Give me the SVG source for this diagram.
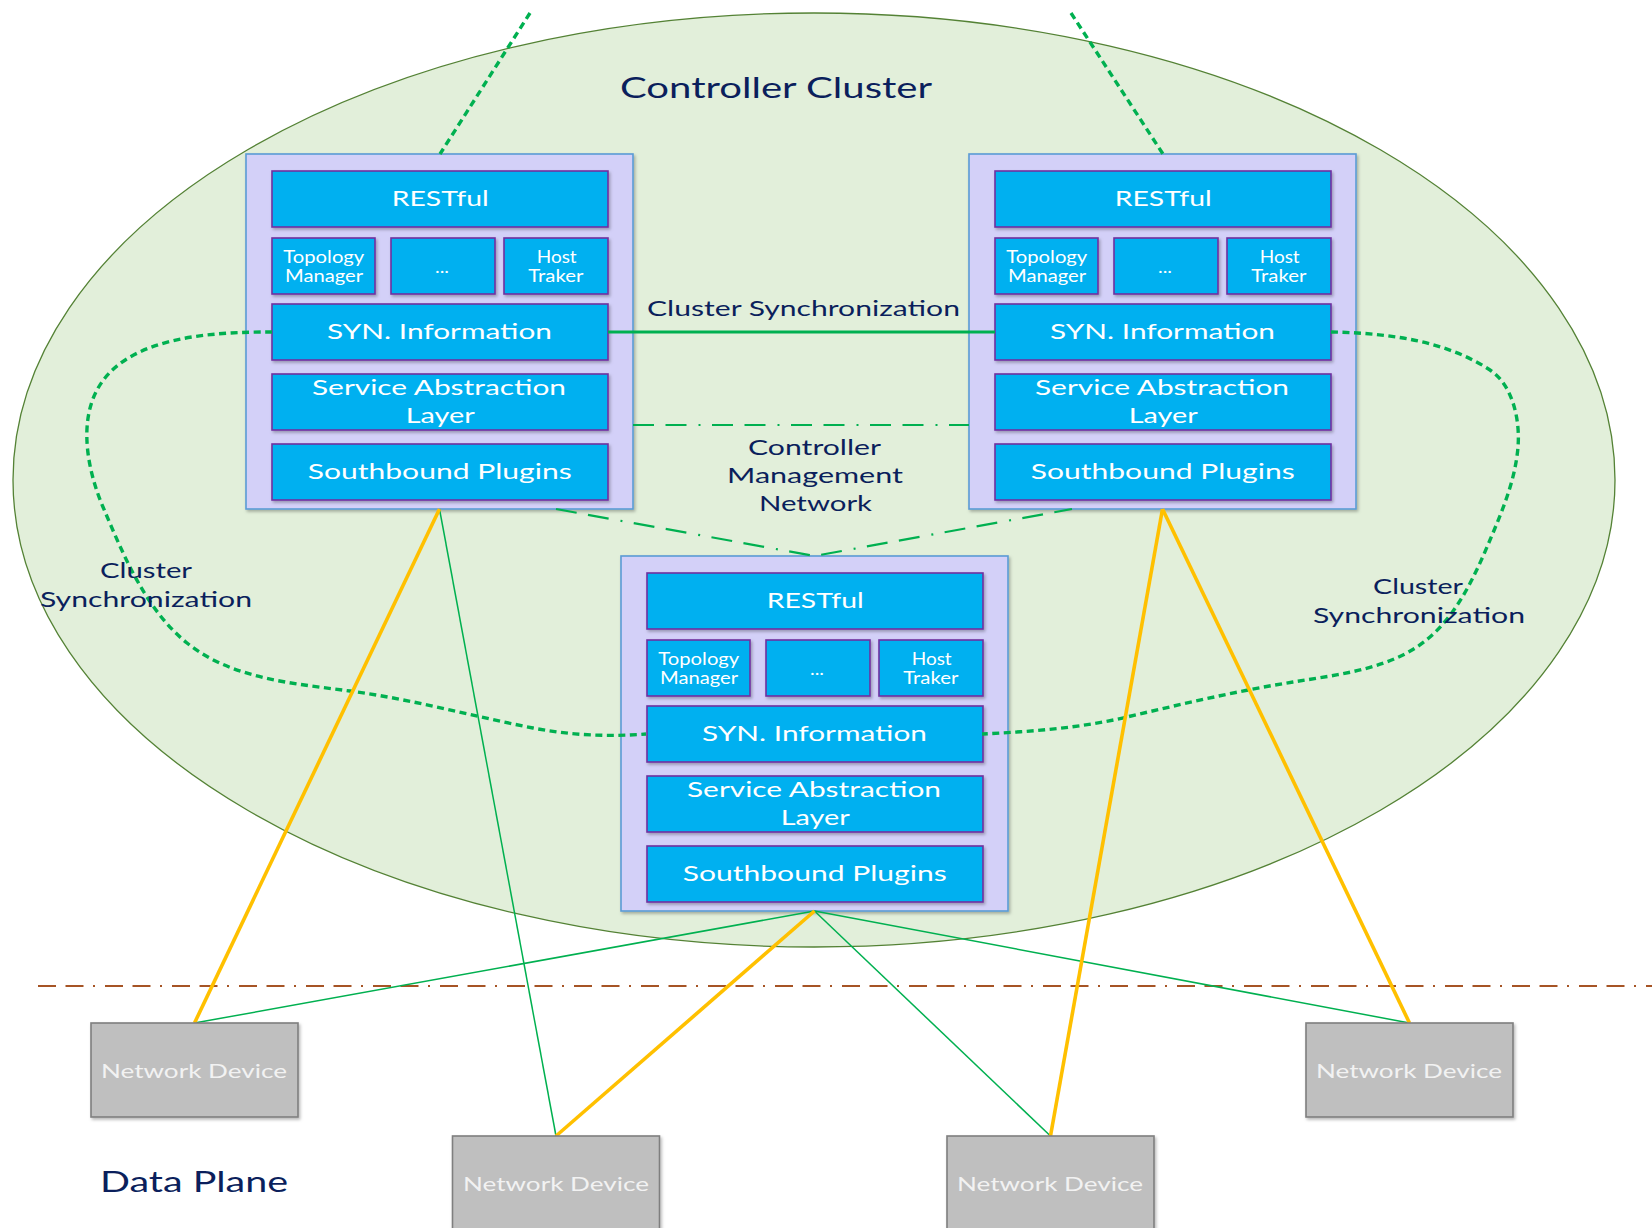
<svg xmlns="http://www.w3.org/2000/svg" width="1652" height="1228" viewBox="0 0 1652 1228">
<style>
.ell{fill:#e2efda;stroke:#548235;stroke-width:1.3}
.ctrl{fill:#d3d0f8;stroke:#5b9bd5;stroke-width:1.6}
.mod{fill:#00b0f0;stroke:#7030a0;stroke-width:1.6}
.dev{fill:#bfbfbf;stroke:#7f7f7f;stroke-width:1.6}
.wt{fill:#ffffff;font-family:Lato,"Liberation Sans",sans-serif;font-size:22px}
.ws{fill:#ffffff;font-family:Lato,"Liberation Sans",sans-serif;font-size:16.5px}
.dt{fill:#f2f2f2;font-family:Lato,"Liberation Sans",sans-serif;font-size:20px}
.nv{fill:#0b1f5c;font-family:Lato,"Liberation Sans",sans-serif;font-size:22px}
.nvl{fill:#0b1f5c;font-family:Lato,"Liberation Sans",sans-serif;font-size:29px}
.dot{fill:none;stroke:#00b050;stroke-width:3.4;stroke-dasharray:7 4.5}
.syn{fill:none;stroke:#00b050;stroke-width:3}
.mgmt{fill:none;stroke:#00b050;stroke-width:2.2;stroke-dasharray:21 11.5 21 12 2 11.5}
.yl{fill:none;stroke:#ffc000;stroke-width:3.6}
.gl{fill:none;stroke:#00b050;stroke-width:1.5}
.br{fill:none;stroke:#a65425;stroke-width:2;stroke-dasharray:18 9.5 18 9.5 2 10}
</style>
<defs>
<filter id="sh" x="-10%" y="-10%" width="125%" height="135%">
<feDropShadow dx="1.5" dy="2" stdDeviation="1.5" flood-color="#000" flood-opacity="0.28"/>
</filter>
</defs>

<g id="controller-cluster">
<ellipse class="ell" cx="814" cy="480" rx="801" ry="467"/>
</g>

<g id="controller-1" transform="translate(246,154)">
<rect class="ctrl" x="0" y="0" width="387" height="355" filter="url(#sh)"/>
<rect class="mod" x="26" y="17" width="336" height="56" filter="url(#sh)"/>
<rect class="mod" x="26" y="84" width="103" height="56" filter="url(#sh)"/>
<rect class="mod" x="145" y="84" width="104" height="56" filter="url(#sh)"/>
<rect class="mod" x="258" y="84" width="104" height="56" filter="url(#sh)"/>
<rect class="mod" x="26" y="150" width="336" height="56" filter="url(#sh)"/>
<rect class="mod" x="26" y="220" width="336" height="56" filter="url(#sh)"/>
<rect class="mod" x="26" y="290" width="336" height="56" filter="url(#sh)"/>
<text class="wt" x="145.7" y="52" textLength="97" lengthAdjust="spacingAndGlyphs">RESTful</text>
<text class="ws" x="37.3" y="109.3" textLength="81" lengthAdjust="spacingAndGlyphs">Topology</text>
<text class="ws" x="39" y="127.7" textLength="78" lengthAdjust="spacingAndGlyphs">Manager</text>
<text class="ws" x="189" y="119" textLength="14" lengthAdjust="spacingAndGlyphs">...</text>
<text class="ws" x="290.7" y="108.7" textLength="40" lengthAdjust="spacingAndGlyphs">Host</text>
<text class="ws" x="282.3" y="127.7" textLength="55" lengthAdjust="spacingAndGlyphs">Traker</text>
<text class="wt" x="81" y="185.3" textLength="225" lengthAdjust="spacingAndGlyphs">SYN. Information</text>
<text class="wt" x="66" y="241" textLength="254" lengthAdjust="spacingAndGlyphs">Service Abstraction</text>
<text class="wt" x="159.7" y="269.3" textLength="69" lengthAdjust="spacingAndGlyphs">Layer</text>
<text class="wt" x="61.7" y="325.3" textLength="264" lengthAdjust="spacingAndGlyphs">Southbound Plugins</text>
</g>

<g id="controller-2" transform="translate(969,154)">
<rect class="ctrl" x="0" y="0" width="387" height="355" filter="url(#sh)"/>
<rect class="mod" x="26" y="17" width="336" height="56" filter="url(#sh)"/>
<rect class="mod" x="26" y="84" width="103" height="56" filter="url(#sh)"/>
<rect class="mod" x="145" y="84" width="104" height="56" filter="url(#sh)"/>
<rect class="mod" x="258" y="84" width="104" height="56" filter="url(#sh)"/>
<rect class="mod" x="26" y="150" width="336" height="56" filter="url(#sh)"/>
<rect class="mod" x="26" y="220" width="336" height="56" filter="url(#sh)"/>
<rect class="mod" x="26" y="290" width="336" height="56" filter="url(#sh)"/>
<text class="wt" x="145.7" y="52" textLength="97" lengthAdjust="spacingAndGlyphs">RESTful</text>
<text class="ws" x="37.3" y="109.3" textLength="81" lengthAdjust="spacingAndGlyphs">Topology</text>
<text class="ws" x="39" y="127.7" textLength="78" lengthAdjust="spacingAndGlyphs">Manager</text>
<text class="ws" x="189" y="119" textLength="14" lengthAdjust="spacingAndGlyphs">...</text>
<text class="ws" x="290.7" y="108.7" textLength="40" lengthAdjust="spacingAndGlyphs">Host</text>
<text class="ws" x="282.3" y="127.7" textLength="55" lengthAdjust="spacingAndGlyphs">Traker</text>
<text class="wt" x="81" y="185.3" textLength="225" lengthAdjust="spacingAndGlyphs">SYN. Information</text>
<text class="wt" x="66" y="241" textLength="254" lengthAdjust="spacingAndGlyphs">Service Abstraction</text>
<text class="wt" x="159.7" y="269.3" textLength="69" lengthAdjust="spacingAndGlyphs">Layer</text>
<text class="wt" x="61.7" y="325.3" textLength="264" lengthAdjust="spacingAndGlyphs">Southbound Plugins</text>
</g>

<g id="controller-3" transform="translate(621,556)">
<rect class="ctrl" x="0" y="0" width="387" height="355" filter="url(#sh)"/>
<rect class="mod" x="26" y="17" width="336" height="56" filter="url(#sh)"/>
<rect class="mod" x="26" y="84" width="103" height="56" filter="url(#sh)"/>
<rect class="mod" x="145" y="84" width="104" height="56" filter="url(#sh)"/>
<rect class="mod" x="258" y="84" width="104" height="56" filter="url(#sh)"/>
<rect class="mod" x="26" y="150" width="336" height="56" filter="url(#sh)"/>
<rect class="mod" x="26" y="220" width="336" height="56" filter="url(#sh)"/>
<rect class="mod" x="26" y="290" width="336" height="56" filter="url(#sh)"/>
<text class="wt" x="145.7" y="52" textLength="97" lengthAdjust="spacingAndGlyphs">RESTful</text>
<text class="ws" x="37.3" y="109.3" textLength="81" lengthAdjust="spacingAndGlyphs">Topology</text>
<text class="ws" x="39" y="127.7" textLength="78" lengthAdjust="spacingAndGlyphs">Manager</text>
<text class="ws" x="189" y="119" textLength="14" lengthAdjust="spacingAndGlyphs">...</text>
<text class="ws" x="290.7" y="108.7" textLength="40" lengthAdjust="spacingAndGlyphs">Host</text>
<text class="ws" x="282.3" y="127.7" textLength="55" lengthAdjust="spacingAndGlyphs">Traker</text>
<text class="wt" x="81" y="185.3" textLength="225" lengthAdjust="spacingAndGlyphs">SYN. Information</text>
<text class="wt" x="66" y="241" textLength="254" lengthAdjust="spacingAndGlyphs">Service Abstraction</text>
<text class="wt" x="159.7" y="269.3" textLength="69" lengthAdjust="spacingAndGlyphs">Layer</text>
<text class="wt" x="61.7" y="325.3" textLength="264" lengthAdjust="spacingAndGlyphs">Southbound Plugins</text>
</g>

<g id="connectors">
<line class="br" x1="38" y1="986" x2="1652" y2="986"/>
<line class="dot" x1="530" y1="13" x2="440" y2="154"/>
<line class="dot" x1="1071" y1="13" x2="1163" y2="154"/>
<line class="syn" x1="608" y1="332" x2="995" y2="332"/>
<line class="mgmt" x1="633" y1="425" x2="969" y2="425"/>
<polyline class="mgmt" points="556,509 814.5,556 1072,509"/>
<path class="dot" d="M272,332 C211,332 125.7,336.3 97,390 C78.7,424.3 87.8,471.1 103,507 C123.7,555.8 145.7,609.6 187,643 C231.5,678.9 293.6,683.6 350,691 C411.4,699.1 472.2,716.2 533,728 C570.2,735.2 608,737 646,734"/>
<path class="dot" d="M1331,332 C1385.5,333 1444.8,340 1490,370 C1512.7,385 1520.2,419.7 1518,447 C1515.4,479.4 1502.6,510.2 1490,540 C1475.2,575 1458.5,611.9 1430,637 C1394,668.7 1340.5,674.3 1293,682 C1237,691 1181.9,704 1127,717 C1079.8,728.2 1030.7,731.6 982,734"/>
<line class="gl" x1="439.5" y1="509" x2="556" y2="1136"/>
<line class="gl" x1="814.5" y1="911" x2="194.5" y2="1023"/>
<line class="gl" x1="814.5" y1="911" x2="1050.5" y2="1136"/>
<line class="gl" x1="814.5" y1="911" x2="1409.5" y2="1023"/>
<line class="yl" x1="439.5" y1="509" x2="194.5" y2="1023"/>
<line class="yl" x1="814.5" y1="911" x2="556" y2="1136"/>
<line class="yl" x1="1162.5" y1="509" x2="1050.5" y2="1136"/>
<line class="yl" x1="1162.5" y1="509" x2="1409.5" y2="1023"/>
</g>

<g id="device-1">
<rect class="dev" x="91" y="1023" width="207" height="94" filter="url(#sh)"/>
<text class="dt" x="101" y="1078" textLength="186" lengthAdjust="spacingAndGlyphs">Network Device</text>
</g>
<g id="device-2">
<rect class="dev" x="452.5" y="1136" width="207" height="96" filter="url(#sh)"/>
<text class="dt" x="463" y="1191" textLength="186" lengthAdjust="spacingAndGlyphs">Network Device</text>
</g>
<g id="device-3">
<rect class="dev" x="947" y="1136" width="207" height="96" filter="url(#sh)"/>
<text class="dt" x="957" y="1191" textLength="186" lengthAdjust="spacingAndGlyphs">Network Device</text>
</g>
<g id="device-4">
<rect class="dev" x="1306" y="1023" width="207" height="94" filter="url(#sh)"/>
<text class="dt" x="1316" y="1078" textLength="186" lengthAdjust="spacingAndGlyphs">Network Device</text>
</g>

<g id="labels">
<text class="nvl" x="620" y="98" textLength="312" lengthAdjust="spacingAndGlyphs">Controller Cluster</text>
<text class="nv" x="647" y="316" font-size="23" textLength="313" lengthAdjust="spacingAndGlyphs">Cluster Synchronization</text>
<text class="nv" x="748" y="455" textLength="133" lengthAdjust="spacingAndGlyphs">Controller</text>
<text class="nv" x="727" y="483" textLength="176" lengthAdjust="spacingAndGlyphs">Management</text>
<text class="nv" x="759" y="511" textLength="113" lengthAdjust="spacingAndGlyphs">Network</text>
<text class="nv" x="100" y="578" textLength="92" lengthAdjust="spacingAndGlyphs">Cluster</text>
<text class="nv" x="40" y="607" textLength="212" lengthAdjust="spacingAndGlyphs">Synchronization</text>
<text class="nv" x="1373" y="594" textLength="90" lengthAdjust="spacingAndGlyphs">Cluster</text>
<text class="nv" x="1313" y="623" textLength="212" lengthAdjust="spacingAndGlyphs">Synchronization</text>
<text class="nvl" x="100" y="1192" textLength="188" lengthAdjust="spacingAndGlyphs">Data Plane</text>
</g>
</svg>
